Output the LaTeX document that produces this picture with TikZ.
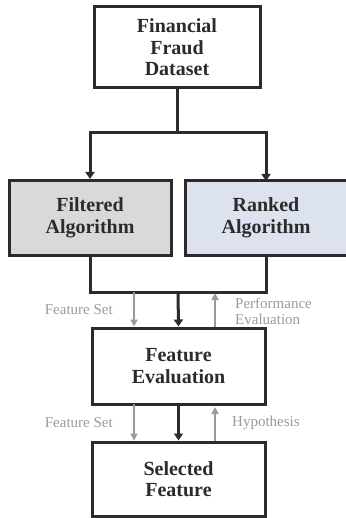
\documentclass[tikz,border=0pt]{standalone}
\usepackage{fontspec}
\setmainfont{Liberation Serif}
\usetikzlibrary{arrows.meta}
\definecolor{boxline}{HTML}{2B2B2B}
\definecolor{grayfill}{HTML}{D9D9D9}
\definecolor{bluefill}{HTML}{DCE3EF}
\definecolor{labelgray}{HTML}{9A9A9A}
\begin{document}
\begin{tikzpicture}[x=1pt,y=-1pt,
  blk/.style={draw=boxline,line width=3pt,align=center,inner sep=0pt,
    font=\fontsize{20}{21.5}\selectfont\bfseries,text=boxline},
  mainline/.style={draw=boxline,line width=3pt},
  mainarrow/.style={mainline,-{Triangle[width=9pt,length=7pt]}},
  grayarrow/.style={draw=labelgray,line width=1.6pt,-{Triangle[width=7pt,length=7pt]}},
  lbl/.style={text=labelgray,font=\fontsize{15}{16}\selectfont,inner sep=0pt}]
\useasboundingbox (0,0) rectangle (345,518);
\node[blk,minimum width=166pt,minimum height=81pt] (ds) at (177,47.5) {Financial\\Fraud\\Dataset};
\node[blk,fill=grayfill,minimum width=162pt,minimum height=75pt] (fa) at (90,218) {Filtered\\Algorithm};
\node[blk,fill=bluefill,minimum width=170pt,minimum height=75pt] (ra) at (270,218) {\hspace*{-8pt}Ranked\\\hspace*{-8pt}Algorithm};
\node[blk,minimum width=173pt,minimum height=76pt] (fe) at (178.5,366) {Feature\\Evaluation};
\node[blk,minimum width=173pt,minimum height=74pt] (sf) at (178.5,479) {Selected\\Feature};
% split from dataset
\coordinate (j1) at (177,133);
\draw[mainline] (ds.south) -- (j1);
\draw[mainarrow] (j1) -| (fa.north -| 90,0);
\draw[mainarrow] (j1) -| (266,181);
% merge
\coordinate (mc) at (178,292);
\draw[mainline] (90,255.5) |- (mc);
\draw[mainline] (266,255.5) |- (mc);
\draw[mainarrow] (mc) -- (fe.north);
% gray arrows 1
\coordinate (g1s) at (134,292);
\coordinate (g2s) at (215,293);
\draw[grayarrow] (g1s) -- (g1s |- fe.north);
\draw[grayarrow] (g2s |- fe.north) -- (g2s);
\node[lbl,anchor=east] (fs1) at (113,310) {Feature Set};
\node[lbl,anchor=west,align=left] (pe) at (235,311.5) {Performance\\Evaluation};
% second set
\draw[mainarrow] (fe.south) -- (sf.north);
\coordinate (g3s) at (134,404);
\coordinate (g4e) at (215,407);
\draw[grayarrow] (g3s) -- (g3s |- sf.north);
\draw[grayarrow] (g4e |- sf.north) -- (g4e);
\node[lbl,anchor=east] (fs2) at (113,423) {Feature Set};
\node[lbl,anchor=west] (hy) at (232,423) {Hypothesis};
\end{tikzpicture}
\end{document}
